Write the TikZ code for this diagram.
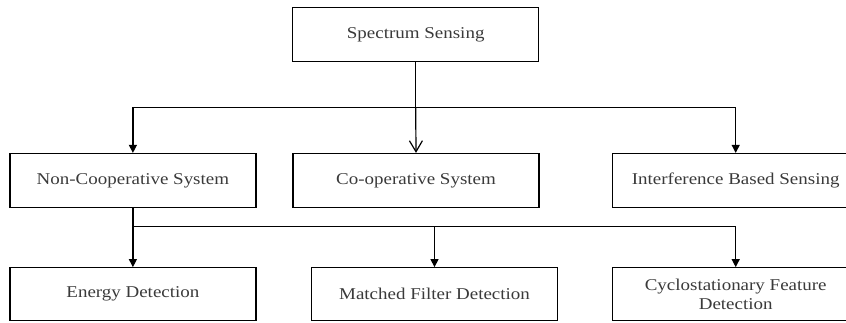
\documentclass[tikz,border=0pt]{standalone}
\usepackage{fontspec}
\setmainfont{Liberation Serif}[FakeStretch=1.15]
\usetikzlibrary{arrows.meta}
\definecolor{txt}{HTML}{3A3A3A}
\tikzset{
  box/.style={draw=black, line width=1.2pt, rectangle, minimum width=246pt, minimum height=54pt,
    inner sep=0pt, align=center, text=txt, font=\fontsize{16.5}{19.3}\selectfont},
  conn/.style={draw=black, line width=1.2pt},
  arr/.style={conn, -{Triangle[length=8pt,width=8pt]}},
  openarr/.style={conn, -{Straight Barb[length=11pt,width=13pt,line width=1.2pt]}}
}
\begin{document}
\begin{tikzpicture}[x=1pt,y=-1pt]
\useasboundingbox (0,0) rectangle (846,322);
\clip (0,0) rectangle (846,322);
\node[box] (ss) at (415.7,34.5) {Spectrum Sensing};
\node[box] (nc) at (132.9,180.5) {Non-Cooperative System};
\node[box] (co) at (416,180.5) {Co-operative System};
\node[box, minimum width=247pt] (ib) at (735.7,180.5) {Interference Based Sensing};
\node[box, minimum height=53pt] (ed) at (132.9,294.2) {Energy Detection};
\node[box, minimum height=53pt] (mf) at (434.5,294.2) {Matched Filter Detection};
\node[box, minimum height=53pt, minimum width=247pt] (cf) at (735.7,294.2) {Cyclostationary Feature\\Detection};
\coordinate (j1) at (415.7,107.7);
\coordinate (j2) at (132.9,226.7);
\draw[conn] (ss.south) -- (j1);
\draw[arr] (j1) -| (nc.north);
\draw[arr] (j1) -| (ib.north);
\draw[openarr] (j1) -- (co.north);
\draw[conn] (nc.south) -- (j2);
\draw[arr] (j2) -- (ed.north);
\draw[arr] (j2) -| (mf.north);
\draw[arr] (j2) -| (cf.north);
\end{tikzpicture}
\end{document}
